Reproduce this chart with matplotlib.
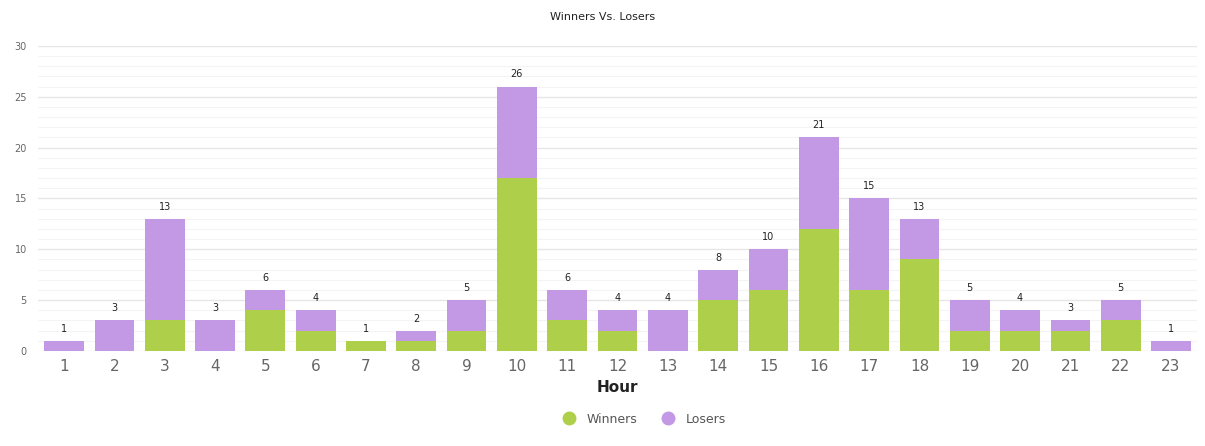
import numpy as np
import matplotlib.pyplot as plt
from matplotlib.lines import Line2D

hours = list(range(1, 24))
winners = [0, 0, 3, 0, 4, 2, 1, 1, 2, 17, 3, 2, 0, 5, 6, 12, 6, 9, 2, 2, 2, 3, 0]
totals = [1, 3, 13, 3, 6, 4, 1, 2, 5, 26, 6, 4, 4, 8, 10, 21, 15, 13, 5, 4, 3, 5, 1]
losers = [t - w for t, w in zip(totals, winners)]

green = "#aecf4a"
purple = "#c398e5"

fig = plt.figure(figsize=(12.05, 4.46), dpi=100)
ax = fig.add_axes([0.0315, 0.213, 0.962, 0.684])

ax.bar(hours, winners, width=0.79, color=green, zorder=3)
ax.bar(hours, losers, width=0.79, bottom=winners, color=purple, zorder=3)

for h, t in zip(hours, totals):
    ax.text(h, t + 0.7, str(t), ha="center", va="bottom", fontsize=7, color="#222222")

ax.set_xlim(0.48, 23.52)
ax.set_ylim(0, 30)
ax.set_yticks(range(0, 31, 5))
ax.set_yticks(range(0, 31, 1), minor=True)
ax.set_xticks(hours)
ax.tick_params(axis="y", which="both", length=0, labelsize=7, labelcolor="#666666", pad=8)
ax.tick_params(axis="x", length=0, labelsize=11, labelcolor="#666666", pad=6)
ax.grid(axis="y", which="major", color="#e6e6e6", linewidth=1.0, zorder=0)
ax.grid(axis="y", which="minor", color="#f4f4f4", linewidth=0.8, zorder=0)
for s in ax.spines.values():
    s.set_visible(False)

ax.set_xlabel("Hour", fontsize=11, fontweight="bold", color="#222222", labelpad=4)
fig.text(0.5, 0.962, "Winners Vs. Losers", ha="center", va="center", fontsize=8, color="#222222")

handles = [
    Line2D([], [], marker="o", linestyle="", markersize=9, color=green),
    Line2D([], [], marker="o", linestyle="", markersize=9, color=purple),
]
leg = fig.legend(handles, ["Winners", "Losers"], loc="center", bbox_to_anchor=(0.532, 0.06),
                 ncol=2, frameon=False, fontsize=9, handletextpad=0.4, columnspacing=1.5)
for t in leg.get_texts():
    t.set_color("#555555")

fig.savefig("out.png", dpi=100)
